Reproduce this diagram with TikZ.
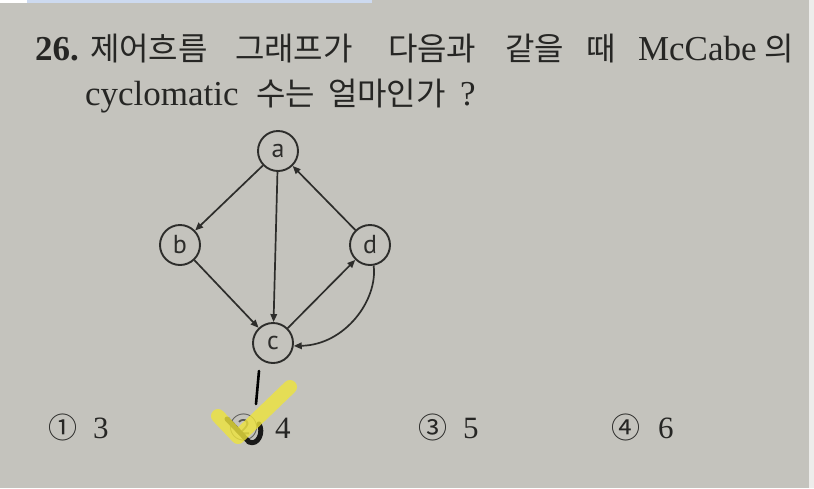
\documentclass[tikz,border=0pt]{standalone}
\usepackage{fontspec}
\setmainfont{Liberation Serif}
\newfontfamily\kr{Noto Sans CJK KR}
\newfontfamily\gsans{PT Sans}
\usetikzlibrary{arrows.meta}
\definecolor{paper}{RGB}{196,195,189}
\definecolor{ink}{RGB}{38,38,36}
\definecolor{edgec}{RGB}{45,45,43}
\definecolor{hilite}{RGB}{238,228,60}
\definecolor{strip}{RGB}{205,218,240}
\begin{document}
\begin{tikzpicture}[x=1pt,y=-1pt,
  txt/.style={anchor=base west,inner sep=0pt,outer sep=0pt,text=ink},
  lat/.style={txt,font=\fontsize{35}{37}\selectfont},
  kor/.style={txt,font=\kr\fontsize{32}{34}\selectfont},
  opt/.style={txt,font=\fontsize{31}{33}\selectfont},
  circ/.style={txt,font=\kr\fontsize{29}{31}\selectfont},
  vert/.style={circle,draw=edgec,line width=1.9pt,minimum size=40pt,inner sep=0pt,
    font=\gsans\fontsize{26}{28}\selectfont,text=edgec},
  arr/.style={draw=edgec,line width=1.7pt,-{Triangle[length=8pt,width=6.5pt]}}]
\fill[paper] (0,0) rectangle (814,488);
\useasboundingbox (0,0) rectangle (814,488);
\fill[white] (0,0) rectangle (27,3);
\fill[strip] (27,0) rectangle (372,3);
\fill[white!70!paper] (809,0) rectangle (814,488);
% title line 1
\node[lat,font=\bfseries\fontsize{35}{37}\selectfont] (n26) at (35,60) {26.};
\node[kor] (w1) at (90,60) {제어흐름};
\node[kor] (w2) at (235,60) {그래프가};
\node[kor] (w3) at (388,60) {다음과};
\node[kor] (w4) at (505,60) {같을};
\node[kor] (w5) at (586,60) {때};
\node[lat] (w6) at (638,60) {McCabe};
\node[kor] (w7) at (764,60) {의};
% title line 2
\node[lat] (l1) at (85,105) {cyclomatic};
\node[kor] (l2) at (256,105) {수는};
\node[kor] (l3) at (328,105) {얼마인가};
\node[lat] (l4) at (460,105) {?};
% graph
\node[vert] (a) at (278,151) {a};
\node[vert] (b) at (180,245) {b};
\node[vert] (d) at (370,245) {d};
\node[vert] (c) at (273,343) {c};
\draw[arr] (a) -- (b);
\draw[arr] (a) -- (c);
\draw[arr] (b) -- (c);
\draw[arr] (c) -- (d);
\draw[arr] (d) -- (a);
\draw[arr] (d.-80) .. controls (378,300) and (345,345) .. (c.-8);
% options
\node[circ] (o1) at (48,438) {①};
\node[opt] (o1n) at (93,438) {3};
\node[circ,text=ink!70!paper] (o2) at (229,438) {②};
\node[opt] (o2n) at (275,438) {4};
\node[circ] (o3) at (418,438) {③};
\node[opt] (o3n) at (463,438) {5};
\node[circ] (o4) at (611,438) {④};
\node[opt] (o4n) at (658,438) {6};
% handwritten marks
\draw[black,line width=2.6pt,line cap=round] (259,371) -- (256,404);
\draw[black!90,line width=5pt,line cap=round,line join=round]
  (227,419) -- (249,442) .. controls (258,446) and (264,432) .. (259,424);
\draw[hilite,opacity=0.8,line width=14pt,line cap=round,line join=round]
  (218,416) -- (238,437) -- (290,387);
\end{tikzpicture}
\end{document}
